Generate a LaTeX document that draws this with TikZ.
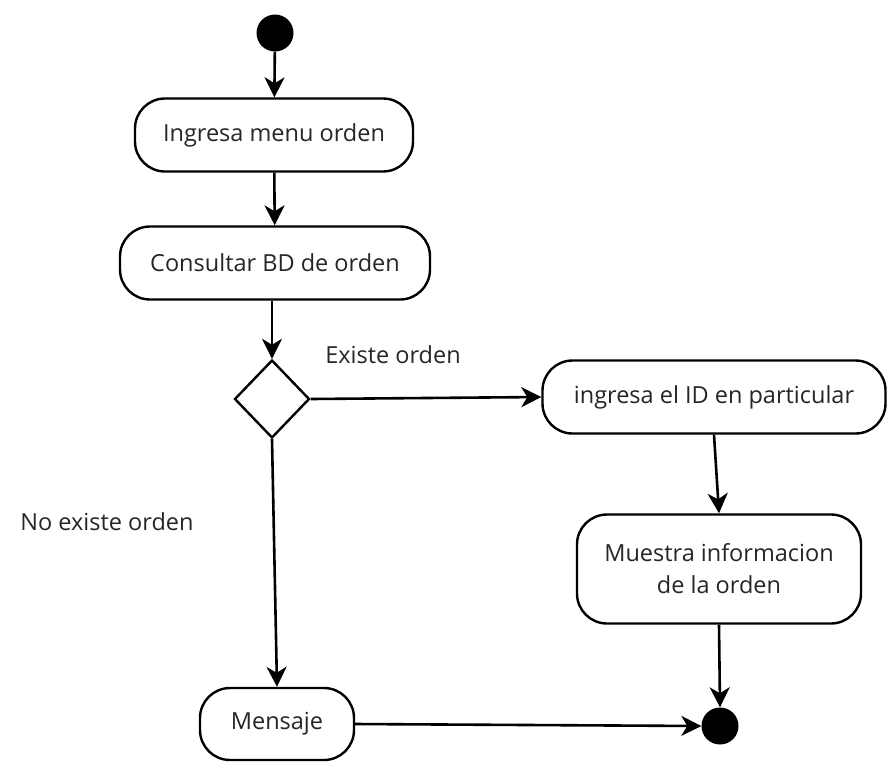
\documentclass[tikz,border=0pt]{standalone}
\usepackage{fontspec}
\setmainfont{Open Sans}
\usepackage{tikz}
\usetikzlibrary{
  arrows.meta,
  shapes.geometric,
  positioning
}
\definecolor{adLine}{HTML}{000000}
\definecolor{adText}{HTML}{262626}
\tikzset{
  adnode/.style={
    draw=adLine, rounded corners=30pt, line width=2.4pt, fill=white,
    minimum height=73pt, font=\fontsize{23.5}{32}\selectfont, text=adText,
    align=center, inner sep=0pt
  },
  addecision/.style={
    draw=adLine, diamond, line width=2.4pt, fill=white,
    minimum width=75pt, minimum height=78pt, inner sep=0pt
  },
  adstart/.style={circle, fill=adLine, minimum size=37pt, inner sep=0pt},
  adflow/.style={-{Stealth[length=20pt, width=20pt, inset=6pt]}, line width=2.6pt, adLine},
  adtag/.style={font=\fontsize{23.5}{32}\selectfont, text=adText}
}
\begin{document}
\begin{tikzpicture}[x=1pt, y=-1pt]
  \useasboundingbox (0,0) rectangle (891,761);
  \node[adstart] (start) at (275,33) {};
  \node[adnode, minimum width=278pt] (menu) at (274,135) {Ingresa menu orden};
  \node[adnode, minimum width=310pt] (bd) at (275,263) {Consultar BD de orden};
  \node[addecision] (dec) at (272,399) {};
  \node[adnode, minimum width=343pt] (id) at (714,397) {ingresa el ID en particular};
  \node[adnode, minimum width=284pt, minimum height=109pt] (info) at (719,569) {Muestra informacion\\de la orden};
  \node[adnode, minimum width=154pt, minimum height=72pt] (msg) at (277,724) {Mensaje};
  \node[adstart] (fin) at (720,726) {};
  \node[adtag] (yes) at (393,355) {Existe orden};
  \node[adtag] (no) at (107,522) {No existe orden};
  \draw[adflow] (start) -- (menu);
  \draw[adflow] (menu) -- (bd);
  \draw[adflow] (bd.south -| 272,0) -- (dec.north);
  \draw[adflow] (dec.east) -- (id.west);
  \draw[adflow] (id.south) -- (info.north);
  \draw[adflow] (info.south) -- (fin.north);
  \draw[adflow] (dec.south) -- (msg.north);
  \draw[adflow] (msg.east) -- (fin.west);
\end{tikzpicture}
\end{document}
